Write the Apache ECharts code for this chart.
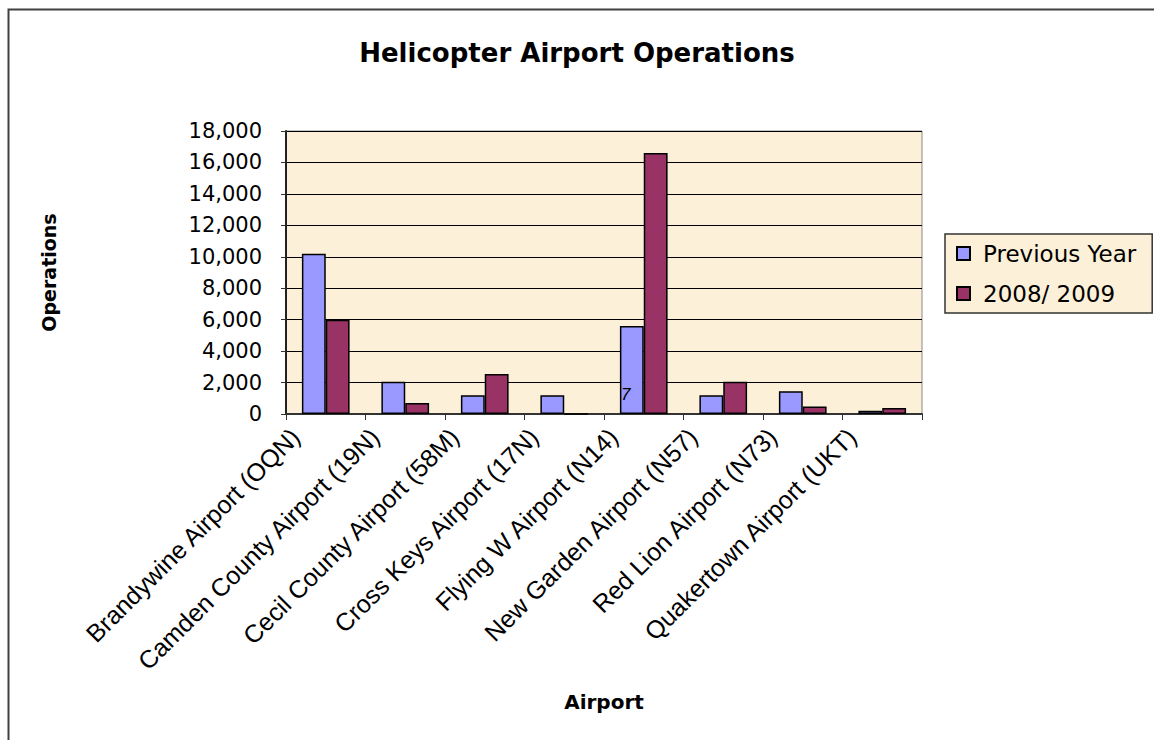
<!DOCTYPE html>
<html>
<head>
<meta charset="utf-8">
<title>Helicopter Airport Operations</title>
<script src="https://cdn.jsdelivr.net/npm/echarts@6/dist/echarts.min.js"></script>
<style>
    html, body { margin: 0; padding: 0; background: #ffffff; }
    #chart { width: 1154px; height: 740px; }
</style>
</head>
<body>
<div id="chart"></div>
<script>
// airports on the x axis
let airports = [
    'Brandywine Airport (OQN)',
    'Camden County Airport (19N)',
    'Cecil County Airport (58M)',
    'Cross Keys Airport (17N)',
    'Flying W Airport (N14)',
    'New Garden Airport (N57)',
    'Red Lion Airport (N73)',
    'Quakertown Airport (UKT)'
];
// operations
let previous_year = [10200, 2050, 1200, 1200, 5600, 1200, 1450, 200];
let year_2008_2009 = [6000, 700, 2550, 0, 16600, 2050, 480, 380];
let series_names = ['Previous Year', '2008/ 2009'];
let y_ticks = [0, 2000, 4000, 6000, 8000, 10000, 12000, 14000, 16000, 18000];

var myChart = echarts.init(document.getElementById('chart'), null, {renderer: 'svg'});

var option = {
    backgroundColor: '#ffffff',
    animation: false,
    title: {
        text: 'Helicopter Airport Operations',
        left: 'center',
        top: 35,
        textStyle: {
            fontFamily: 'DejaVu Sans',
            fontWeight: 'bold',
            fontSize: 26,
            color: '#000000'
        }
    },
    legend: {
        orient: 'vertical',
        left: 945,
        top: 234,
        padding: [8, 16, 8, 11],
        itemGap: 17,
        itemWidth: 13,
        itemHeight: 13,
        icon: 'rect',
        backgroundColor: '#fcf0d8',
        borderColor: '#333333',
        borderWidth: 1.5,
        borderRadius: 0,
        textStyle: {
            fontFamily: 'DejaVu Sans',
            fontSize: 23,
            color: '#000000',
            padding: [0, 0, 0, 8]
        },
        data: series_names
    },
    grid: {
        left: 286,
        right: 232,
        top: 131,
        bottom: 326,
        show: true,
        backgroundColor: '#fcf0d8',
        borderColor: '#8a8a8a',
        borderWidth: 1,
        outerBoundsMode: 'none'
    },
    xAxis: {
        type: 'category',
        data: airports,
        name: 'Airport',
        nameLocation: 'middle',
        nameGap: 278,
        nameTextStyle: {
            fontFamily: 'DejaVu Sans',
            fontWeight: 'bold',
            fontSize: 20,
            color: '#000000'
        },
        axisLine: { lineStyle: { color: '#333333', width: 2 } },
        axisTick: { show: true, length: 6, interval: 0, lineStyle: { color: '#333333', width: 1 } },
        axisLabel: {
            interval: 0,
            rotate: 45,
            margin: -12,
            padding: [0, 43, 0, 0],
            fontFamily: 'Liberation Sans',
            fontSize: 25,
            color: '#000000'
        }
    },
    yAxis: {
        type: 'value',
        min: y_ticks[0],
        max: y_ticks[y_ticks.length - 1],
        interval: y_ticks[1] - y_ticks[0],
        name: 'Operations',
        nameLocation: 'middle',
        nameGap: 228,
        nameRotate: 90,
        nameTextStyle: {
            fontFamily: 'DejaVu Sans',
            fontWeight: 'bold',
            fontSize: 19,
            color: '#000000'
        },
        axisLine: { show: true, lineStyle: { color: '#222222', width: 2 } },
        axisTick: { show: true, length: 5, lineStyle: { color: '#333333' } },
        axisLabel: {
            margin: 24,
            fontFamily: 'DejaVu Sans',
            fontSize: 21,
            color: '#000000',
            formatter: function (v) {
                return v.toLocaleString('en-US');
            }
        },
        splitLine: { show: true, lineStyle: { color: '#000000', width: 1 } }
    },
    series: [
        {
            name: series_names[0],
            type: 'bar',
            data: previous_year,
            barGap: '0%',
            barCategoryGap: '40%',
            itemStyle: { color: '#9999ff', borderColor: '#000000', borderWidth: 1.5 }
        },
        {
            name: series_names[1],
            type: 'bar',
            data: year_2008_2009,
            barGap: '0%',
            barCategoryGap: '40%',
            itemStyle: { color: '#993366', borderColor: '#000000', borderWidth: 1.5 }
        }
    ],
    graphic: [
        {
            // outer frame, only top and left edges are inside the picture
            type: 'rect',
            left: 6,
            top: 7,
            shape: { width: 1300, height: 900 },
            style: { fill: null, stroke: '#404040', lineWidth: 2 },
            silent: true,
            z: -1
        },
        {
            // stray label inside the Flying W bar
            type: 'text',
            left: 621,
            top: 386,
            style: { text: '7', fontFamily: 'Liberation Sans', fontSize: 17, fontStyle: 'italic', fill: '#000000' },
            z: 100
        }
    ]
};

myChart.setOption(option);
</script>
</body>
</html>
